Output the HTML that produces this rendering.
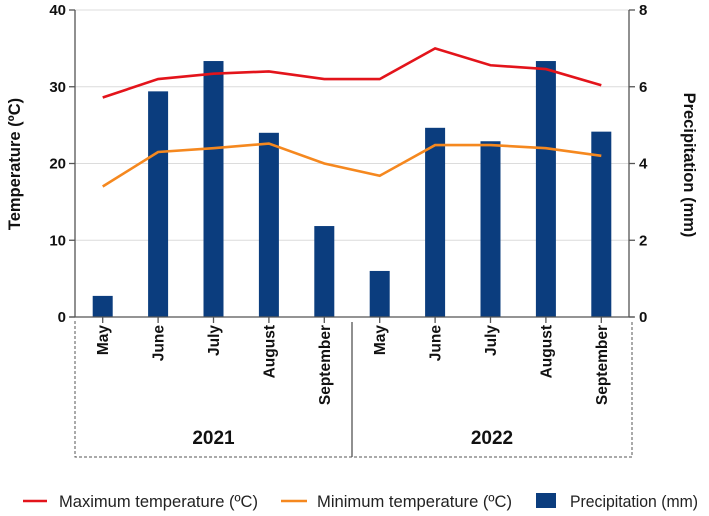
<!DOCTYPE html>
<html><head><meta charset="utf-8"><style>
body{margin:0;background:#fff;}
svg{display:block;font-family:"Liberation Sans",Arial,sans-serif;}
</style></head><body>
<svg id="chart" width="709" height="516" viewBox="0 0 709 516"></svg>
<script>
const months = ["May","June","July","August","September","May","June","July","August","September"];
const precip = [0.55,5.88,6.67,4.8,2.37,1.2,4.93,4.58,6.67,4.83];
const maxTemp = [28.6,31,31.7,32,31,31,35,32.8,32.3,30.2];
const minTemp = [17,21.5,22,22.6,20,18.4,22.4,22.4,22,21];
const tempTicks = [0,10,20,30,40];
const precTicks = [0,2,4,6,8];
const years = ["2021","2022"];

const NS="http://www.w3.org/2000/svg";
const svg=document.getElementById('chart');
const X0=75,X1=629,Y0=317,Y1=10;
const band=(X1-X0)/months.length;
const xc=i=>X0+band*(i+0.5);
const yT=v=>Y0-(v/40)*(Y0-Y1);
const yP=v=>Y0-(v/8)*(Y0-Y1);
function el(tag,attrs,parent){const e=document.createElementNS(NS,tag);for(const k in attrs)e.setAttribute(k,attrs[k]);(parent||svg).appendChild(e);return e;}

tempTicks.forEach(t=>{if(t>0){const g=el('line',{x1:X0,x2:X1,y1:yT(t),y2:yT(t),stroke:'#dcdcdc','stroke-width':1});

}});

precip.forEach((v,i)=>{const b=el('rect',{x:xc(i)-10,y:yP(v),width:20,height:Y0-yP(v),fill:'#0b3d7e'});

});

function line(data,color,name){const p=el('polyline',{points:data.map((v,i)=>xc(i)+','+yT(v)).join(' '),fill:'none',stroke:color,'stroke-width':2.6});

}
line(maxTemp,'#e3141b','max-temp-line');
line(minTemp,'#f5881f','min-temp-line');

const ax='#555';
el('line',{x1:X0,x2:X0,y1:Y1,y2:Y0,stroke:ax,'stroke-width':1.3});
el('line',{x1:X1,x2:X1,y1:Y1,y2:Y0,stroke:ax,'stroke-width':1.3});
el('line',{x1:X0-5,x2:X1+5,y1:Y0,y2:Y0,stroke:ax,'stroke-width':1.3});
tempTicks.forEach(t=>{el('line',{x1:X0-6,x2:X0,y1:yT(t),y2:yT(t),stroke:ax,'stroke-width':1.3});
const tx=el('text',{x:X0-9,y:yT(t)+5,'text-anchor':'end','font-size':15,'font-weight':'bold',fill:'#111'});tx.textContent=t;

});
precTicks.forEach(t=>{el('line',{x1:X1,x2:X1+6,y1:yP(t),y2:yP(t),stroke:ax,'stroke-width':1.3});
const tx=el('text',{x:X1+10,y:yP(t)+5,'font-size':15,'font-weight':'bold',fill:'#111'});tx.textContent=t;

});

const lt=el('text',{x:0,y:0,transform:'translate(20,164) rotate(-90)','text-anchor':'middle','font-size':16.5,'font-weight':'bold',fill:'#111'});lt.textContent='Temperature (ºC)';


const rt=el('text',{x:0,y:0,transform:'translate(684,165) rotate(90)','text-anchor':'middle','font-size':16.5,'font-weight':'bold',fill:'#111'});rt.textContent='Precipitation (mm)';



months.forEach((m,i)=>{el('line',{x1:xc(i),x2:xc(i),y1:Y0,y2:Y0+6,stroke:ax,'stroke-width':1.3});
const t=el('text',{x:0,y:0,transform:`translate(${xc(i)+5.5},325) rotate(-90)`,'text-anchor':'end','font-size':15.5,'font-weight':'bold',fill:'#111'});t.textContent=m;

});

el('path',{d:`M${X0},321 V457 H632 V321`,fill:'none',stroke:'#555','stroke-width':1,'stroke-dasharray':'3,2'});
const mid=(xc(4)+xc(5))/2;
el('line',{x1:mid,x2:mid,y1:322,y2:457,stroke:'#555','stroke-width':1.3});
years.forEach((y,i)=>{const t=el('text',{x:i==0?(X0+mid)/2:(mid+632)/2,y:444,'text-anchor':'middle','font-size':19,'font-weight':'bold',fill:'#111'});t.textContent=y;

});

const lg=el('g',{});


el('line',{x1:23,x2:47,y1:501,y2:501,stroke:'#e3141b','stroke-width':2.6},lg);
let t1=el('text',{x:59,y:507,'font-size':16.5,fill:'#222',textLength:199,lengthAdjust:'spacingAndGlyphs'},lg);t1.textContent='Maximum temperature (ºC)';


el('line',{x1:281,x2:307,y1:501,y2:501,stroke:'#f5881f','stroke-width':2.6},lg);
let t2=el('text',{x:317,y:507,'font-size':16.5,fill:'#222',textLength:195,lengthAdjust:'spacingAndGlyphs'},lg);t2.textContent='Minimum temperature (ºC)';


el('rect',{x:536,y:493,width:20,height:15,fill:'#0b3d7e'},lg);
let t3=el('text',{x:570,y:507,'font-size':16.5,fill:'#222',textLength:128,lengthAdjust:'spacingAndGlyphs'},lg);t3.textContent='Precipitation (mm)';


</script>
</body></html>
